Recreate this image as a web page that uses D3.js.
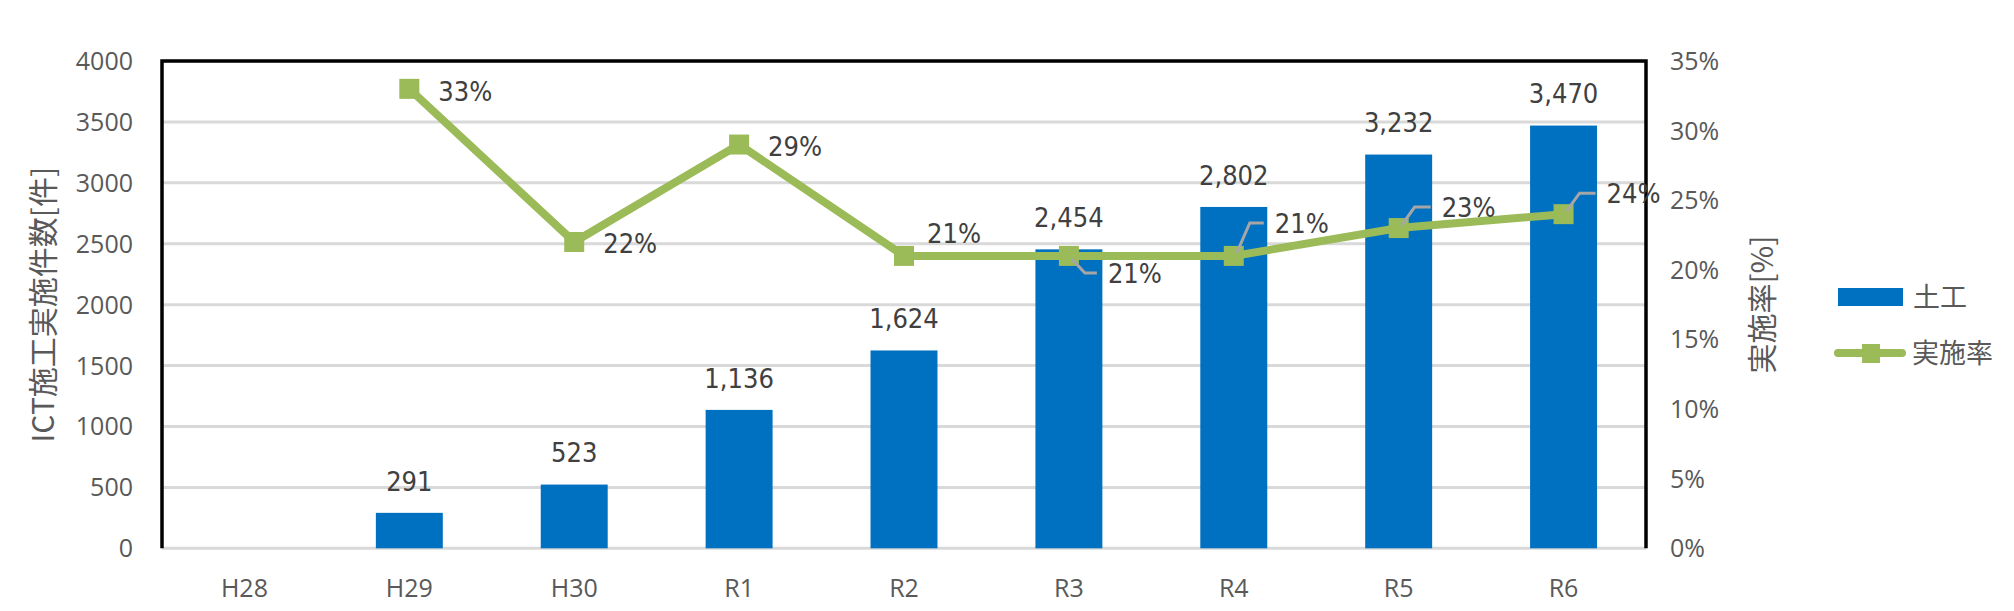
<!DOCTYPE html>
<html>
<head>
<meta charset="utf-8">
<script src="https://cdn.jsdelivr.net/npm/d3@7/dist/d3.min.js"></script>
<style>
html, body { margin: 0; padding: 0; background: #fff; }
svg { display: block; }
.tick-l, .tick-r, .xlab { font-family: "Open Sans", "Noto Sans", sans-serif; font-size: 25px; fill: #595959; }
.dlab { font-family: "DejaVu Sans Condensed", "DejaVu Sans", sans-serif; font-stretch: condensed; font-size: 27px; fill: #404040; }
.title { font-family: "Noto Sans CJK JP", sans-serif; font-size: 30px; fill: #595959; }
.leg { font-family: "Noto Sans CJK JP", sans-serif; font-size: 27px; fill: #595959; }
</style>
</head>
<body>
<svg id="chart" width="2014" height="611"></svg>
<script>
// ---- data ----
const categories = ["H28", "H29", "H30", "R1", "R2", "R3", "R4", "R5", "R6"];
const doboku = [null, 291, 523, 1136, 1624, 2454, 2802, 3232, 3470];   // 土工 (件)
const rate = [null, 0.33, 0.22, 0.29, 0.21, 0.21, 0.21, 0.23, 0.24];    // 実施率
const rateLabels = ["", "33%", "22%", "29%", "21%", "21%", "21%", "23%", "24%"];
const leftTicks = [0, 500, 1000, 1500, 2000, 2500, 3000, 3500, 4000];
const rightTicks = [0, 0.05, 0.10, 0.15, 0.20, 0.25, 0.30, 0.35];
const seriesNames = ["土工", "実施率"];
const leftTitle = "ICT施工実施件数[件]";
const rightTitle = "実施率[%]";

// label placement (offset of label from marker: left edge, vertical centre; leader flag)
const rateLabelPlacement = [
  null,
  {dx: 29, dy: 2, leader: false},
  {dx: 29, dy: 1, leader: false},
  {dx: 29, dy: 2, leader: false},
  {dx: 23, dy: -23, leader: false},
  {dx: 39, dy: 17, leader: true},
  {dx: 41, dy: -33, leader: true},
  {dx: 43, dy: -21, leader: true},
  {dx: 43, dy: -21, leader: true}
];

// ---- layout ----
const plot = {left: 162, right: 1646, top: 61, bottom: 548.3};
const svg = d3.select("#chart");

const x = d3.scaleBand().domain(categories).range([plot.left, plot.right])
  .paddingInner(0.594).paddingOuter(0.297);
const yL = d3.scaleLinear().domain([0, 4000]).range([plot.bottom, plot.top]);
const yR = d3.scaleLinear().domain([0, 0.35]).range([plot.bottom, plot.top]);
const cx = c => x(c) + x.bandwidth() / 2;

// gridlines
svg.append("g").selectAll("line").data(leftTicks).join("line")
  .attr("x1", plot.left).attr("x2", plot.right)
  .attr("y1", d => yL(d)).attr("y2", d => yL(d))
  .attr("stroke", "#D9D9D9").attr("stroke-width", 3);

// bars
const barData = categories.map((c, i) => ({c, v: doboku[i]})).filter(d => d.v != null);
svg.append("g").selectAll("rect").data(barData).join("rect")
  .attr("x", d => x(d.c)).attr("width", x.bandwidth())
  .attr("y", d => yL(d.v)).attr("height", d => yL(0) - yL(d.v))
  .attr("fill", "#0070C0");

// frame (left, top, right)
svg.append("path")
  .attr("d", `M${plot.left},${plot.bottom}V${plot.top}H${plot.right}V${plot.bottom}`)
  .attr("fill", "none").attr("stroke", "#000").attr("stroke-width", 3.5);

// bar labels
const fmt = d3.format(",");
svg.append("g").selectAll("text").data(barData).join("text")
  .attr("class", "dlab")
  .attr("x", d => cx(d.c)).attr("y", d => yL(d.v) - 32)
  .attr("dy", "0.36em").attr("text-anchor", "middle")
  .text(d => fmt(d.v));

// line
const lineData = categories.map((c, i) => ({c, v: rate[i], i})).filter(d => d.v != null);
const line = d3.line().x(d => cx(d.c)).y(d => yR(d.v));
svg.append("path").datum(lineData)
  .attr("d", line).attr("fill", "none")
  .attr("stroke", "#9BBB59").attr("stroke-width", 8).attr("stroke-linejoin", "miter");

// markers
const ms = 20;
svg.append("g").selectAll("rect").data(lineData).join("rect")
  .attr("x", d => cx(d.c) - ms / 2).attr("y", d => yR(d.v) - ms / 2)
  .attr("width", ms).attr("height", ms).attr("fill", "#9BBB59");

// leader lines
const leaders = lineData.filter(d => rateLabelPlacement[d.i].leader);
svg.append("g").selectAll("path").data(leaders).join("path")
  .attr("d", d => {
    const p = rateLabelPlacement[d.i];
    const mx = cx(d.c), my = yR(d.v);
    const s = p.dy > 0 ? 1 : -1;
    return `M${mx + 3},${my + 3 * s}L${mx + 16},${my + p.dy}H${mx + p.dx - 11}`;
  })
  .attr("fill", "none").attr("stroke", "#A6A6A6").attr("stroke-width", 3);

// rate labels
svg.append("g").selectAll("text").data(lineData).join("text")
  .attr("class", "dlab")
  .attr("x", d => cx(d.c) + rateLabelPlacement[d.i].dx)
  .attr("y", d => yR(d.v) + rateLabelPlacement[d.i].dy)
  .attr("dy", "0.36em")
  .text(d => rateLabels[d.i]);

// left axis labels
svg.append("g").selectAll("text").data(leftTicks).join("text")
  .attr("class", "tick-l")
  .attr("x", 133).attr("y", d => yL(d)).attr("dy", "0.36em")
  .attr("text-anchor", "end").text(d => d);

// right axis labels
const pct = d3.format(".0%");
svg.append("g").selectAll("text").data(rightTicks).join("text")
  .attr("class", "tick-r")
  .attr("x", 1670).attr("y", d => yR(d)).attr("dy", "0.36em")
  .text(d => pct(d));

// x labels
svg.append("g").selectAll("text").data(categories).join("text")
  .attr("class", "xlab")
  .attr("x", d => cx(d)).attr("y", 597)
  .attr("text-anchor", "middle").text(d => d);

// axis titles
const midY = (plot.top + plot.bottom) / 2;
svg.append("text").attr("class", "title")
  .attr("transform", `translate(43,${midY}) rotate(-90)`)
  .attr("text-anchor", "middle").attr("dy", "0.36em").text(leftTitle);
svg.append("text").attr("class", "title")
  .attr("transform", `translate(1762,${midY}) rotate(-90)`)
  .attr("text-anchor", "middle").attr("dy", "0.36em").text(rightTitle);

// legend
const lg = svg.append("g");
lg.append("rect").attr("x", 1838).attr("y", 288).attr("width", 65).attr("height", 18).attr("fill", "#0070C0");
lg.append("text").attr("class", "leg").attr("x", 1913).attr("y", 297).attr("dy", "0.36em").text(seriesNames[0]);
lg.append("line").attr("x1", 1838).attr("x2", 1902).attr("y1", 353).attr("y2", 353)
  .attr("stroke", "#9BBB59").attr("stroke-width", 8).attr("stroke-linecap", "round");
lg.append("rect").attr("x", 1862).attr("y", 344).attr("width", 18).attr("height", 19).attr("fill", "#9BBB59");
lg.append("text").attr("class", "leg").attr("x", 1912).attr("y", 353).attr("dy", "0.36em").text(seriesNames[1]);
</script>
</body>
</html>
